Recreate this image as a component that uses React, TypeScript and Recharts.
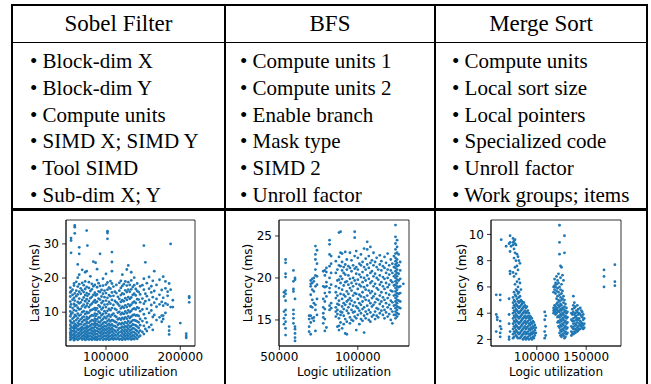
import React from 'react';
import { ScatterChart, Scatter, XAxis, YAxis, ReferenceArea } from 'recharts';

// Column headers and bullet lists
const titles = ['Sobel Filter', 'BFS', 'Merge Sort'];
const sobelParams = ['Block-dim X', 'Block-dim Y', 'Compute units', 'SIMD X; SIMD Y', 'Tool SIMD', 'Sub-dim X; Y'];
const bfsParams = ['Compute units 1', 'Compute units 2', 'Enable branch', 'Mask type', 'SIMD 2', 'Unroll factor'];
const mergeParams = ['Compute units', 'Local sort size', 'Local pointers', 'Specialized code', 'Unroll factor', 'Work groups; items'];

// Scatter data: [logic utilization (thousands), latency values (ms)]
const sobelCols: [number, number[]][] = [
  [52, [1.9, 2.6, 3.4, 4.1, 5.2, 6.3, 7.5, 8.8, 10.2, 11.6, 13.1, 14.6, 15.8, 17.2]],
  [53, [2.2, 3.0, 3.8, 4.7, 5.8, 7.0, 9.4, 12.3, 16.1, 27.4, 31.0, 31.7]],
  [55, [2.4, 3.3, 4.4, 5.5, 6.8, 8.1, 9.9, 11.2, 13.7, 15.1, 16.6]],
  [57, [1.8, 2.7, 3.6, 4.6, 5.1, 6.0, 7.3, 8.5, 10.6, 12.4, 14.2, 17.8, 18.4]],
  [58, [2.1, 3.0, 4.0, 5.6, 6.6, 9.2, 11.8, 13.4, 15.5, 33.1, 34.9, 35.4]],
  [60, [2.3, 3.2, 4.3, 5.3, 6.2, 7.7, 8.9, 10.4, 12.0, 14.7, 16.3, 18.9]],
  [62, [1.9, 2.8, 3.7, 4.8, 5.9, 6.9, 8.2, 9.6, 11.3, 13.0, 15.2, 17.5, 20.1, 24.0]],
  [64, [2.2, 3.1, 4.0, 5.0, 6.4, 7.4, 9.0, 10.8, 12.6, 14.0, 16.0, 18.2, 21.0, 27.1, 29.0]],
  [66, [2.5, 3.5, 4.5, 5.4, 6.5, 7.9, 9.3, 11.0, 12.9, 15.4, 17.0]],
  [68, [2.0, 2.9, 3.9, 4.9, 5.7, 7.1, 8.4, 10.0, 11.7, 13.6, 16.4, 18.6, 22.4]],
  [70, [2.3, 3.2, 4.2, 5.2, 6.3, 7.6, 8.7, 10.3, 12.2, 14.3, 15.9, 17.9]],
  [72, [1.9, 2.8, 3.6, 4.6, 5.5, 6.6, 7.8, 9.5, 11.4, 13.2, 15.0, 16.8, 19.0, 21.7]],
  [74, [2.1, 3.0, 4.1, 5.1, 6.0, 7.2, 8.6, 10.1, 11.9, 13.8, 15.6, 17.4, 22.0, 33.9]],
  [75, [2.6, 3.4, 4.4, 5.6, 6.8, 8.0, 9.7, 12.6, 14.8, 29.5]],
  [77, [2.0, 2.9, 3.8, 4.8, 5.8, 6.9, 8.3, 9.9, 11.5, 13.3, 15.3, 17.1, 18.8]],
  [79, [2.2, 3.1, 4.0, 5.0, 6.1, 7.3, 8.8, 10.5, 12.1, 14.1, 16.2, 20.5]],
  [81, [1.9, 2.7, 3.7, 4.6, 5.5, 6.5, 7.7, 9.1, 10.7, 12.5, 14.5, 16.7, 18.3]],
  [83, [2.3, 3.3, 4.3, 5.3, 6.4, 7.5, 9.0, 10.9, 13.0, 15.1, 17.6, 24.8]],
  [85, [2.0, 2.8, 3.8, 4.7, 5.7, 6.8, 8.1, 9.6, 11.2, 13.5, 15.7, 18.0]],
  [86, [2.4, 3.5, 4.5, 6.2, 7.4, 8.9, 10.6, 12.8, 14.9, 24.5]],
  [88, [1.9, 2.7, 3.6, 4.5, 5.4, 6.6, 7.9, 9.4, 11.1, 13.1, 15.2, 17.3, 19.4, 22.6]],
  [90, [2.2, 3.1, 4.2, 5.1, 6.1, 7.2, 8.5, 10.2, 12.0, 14.0, 16.1, 18.5]],
  [92, [2.0, 2.9, 3.9, 4.9, 5.9, 7.0, 8.4, 9.8, 11.6, 13.7, 15.9, 17.7, 27.1]],
  [94, [2.5, 3.4, 4.3, 5.3, 6.3, 7.6, 9.1, 10.8, 12.7, 14.6, 16.5]],
  [96, [1.9, 2.8, 3.7, 4.7, 5.6, 6.7, 8.0, 9.5, 11.3, 13.2, 15.4, 17.8, 19.8]],
  [98, [2.2, 3.1, 4.1, 5.0, 6.0, 7.1, 8.6, 10.3, 12.2, 14.4, 16.3]],
  [100, [2.0, 2.9, 3.8, 4.8, 5.8, 6.9, 8.2, 9.7, 11.5, 13.4, 15.6, 18.1, 21.2]],
  [102, [2.3, 3.2, 4.2, 5.2, 6.2, 7.4, 8.8, 10.4, 12.3, 14.2, 16.6, 18.7, 31.5, 33.2, 33.7]],
  [104, [1.9, 2.8, 3.7, 4.6, 5.5, 6.6, 7.8, 9.3, 11.0, 13.0, 15.0, 17.2]],
  [106, [2.1, 3.0, 4.0, 5.0, 6.1, 7.3, 8.7, 10.6, 12.5, 14.7, 16.9, 19.1]],
  [108, [2.4, 3.3, 4.4, 5.4, 6.4, 7.7, 9.2, 11.2, 13.6, 15.8, 18.4, 22.0, 24.7, 27.6]],
  [110, [2.0, 2.9, 3.9, 4.9, 6.0, 7.5, 9.6, 12.1, 14.8, 17.5]],
  [112, [2.3, 3.4, 4.6, 5.9, 7.2, 8.9, 11.0, 13.3, 16.0]],
  [114, [2.1, 3.1, 4.2, 5.6, 7.0, 8.6, 10.7, 12.9, 15.6, 18.0]],
  [116, [2.5, 3.6, 4.8, 6.3, 7.9, 9.9, 12.4, 14.5]],
  [118, [2.0, 3.0, 4.1, 5.3, 6.7, 8.2, 10.1, 11.9, 13.9, 16.3, 18.6]],
  [120, [2.2, 3.2, 4.3, 5.4, 6.5, 7.8, 9.4, 11.1, 13.0, 15.0, 17.1, 19.2]],
  [122, [1.9, 2.8, 3.8, 4.8, 5.8, 6.9, 8.3, 9.8, 11.6, 13.5, 15.5, 17.7, 21.0]],
  [124, [2.3, 3.3, 4.4, 5.5, 6.6, 8.0, 9.5, 11.3, 13.2, 15.3, 18.2]],
  [126, [2.0, 2.9, 3.9, 4.9, 5.9, 7.1, 8.5, 10.2, 12.0, 14.1, 16.4, 19.0]],
  [128, [2.4, 3.4, 4.5, 5.6, 6.8, 8.1, 9.7, 11.5, 13.6, 15.9, 17.8, 22.5]],
  [130, [2.1, 3.0, 4.0, 5.1, 6.2, 7.4, 8.8, 10.5, 12.3, 14.4, 16.6, 18.8, 23.7]],
  [132, [2.5, 3.5, 4.6, 5.7, 6.9, 8.3, 10.0, 11.8, 13.9, 16.0, 18.0]],
  [134, [2.0, 2.9, 3.9, 4.9, 6.0, 7.2, 8.7, 10.4, 12.2, 14.3, 16.7, 19.3, 21.7]],
  [136, [2.3, 3.2, 4.2, 5.3, 6.4, 7.6, 9.1, 10.9, 12.8, 15.1, 17.4]],
  [138, [2.1, 3.1, 4.1, 5.2, 6.3, 7.7, 9.3, 11.1, 13.1, 15.4, 17.9, 20.1]],
  [140, [2.6, 3.7, 4.8, 6.1, 7.5, 9.0, 10.8, 12.7, 14.9, 16.8]],
  [142, [2.2, 3.3, 4.5, 5.8, 7.3, 9.1, 11.4, 13.8, 16.2, 18.4]],
  [144, [2.8, 4.0, 5.4, 7.0, 8.9, 11.2, 13.7, 15.9]],
  [146, [3.1, 4.6, 6.2, 8.0, 10.3, 12.9, 15.2, 17.6]],
  [149, [4.2, 7.4, 10.8, 14.0, 17.9]],
  [151, [3.6, 6.0, 9.4, 12.5, 16.6, 19.8, 29.5]],
  [153, [5.1, 8.2, 13.2, 15.4, 24.6]],
  [155, [4.5, 7.0, 11.0, 14.7, 18.5]],
  [158, [5.6, 9.8, 13.6, 16.9, 20.3]],
  [161, [6.3, 10.5, 12.1, 15.8, 17.6]],
  [163, [4.8, 8.6, 14.4, 19.2]],
  [165, [9.2, 12.8, 16.2, 22.0]],
  [168, [7.7, 11.6, 13.9, 18.0]],
  [172, [8.5, 12.3, 15.1, 19.5]],
  [175, [7.2, 9.0, 13.0, 16.5]],
  [177, [8.0, 9.0, 11.9, 14.2, 20.4]],
  [180, [9.8, 12.6, 17.0, 19.0]],
  [183, [12.2, 14.8, 16.0]],
  [185, [3.5, 4.6, 5.8, 18.4]],
  [187, [11.5, 16.6, 30.0]],
  [190, [11.5, 13.5]],
  [200, [6.8]],
  [208, [2.5, 3.0, 3.7]],
  [212, [12.9, 14.2, 14.6]],
];

const bfsCols: [number, number[]][] = [
  [53, [18.3, 17.8, 16.0, 15.2, 14.5]],
  [54, [22.2, 21.8, 20.5, 20.1, 18.5, 18.1, 17.3, 16.2, 15.6, 14.8, 14.0, 13.2]],
  [59, [20.9, 19.6, 18.7, 18.4, 16.2, 15.7, 15.2, 14.6]],
  [60, [20.0, 19.8, 17.5, 14.2, 13.9, 13.4, 12.9, 12.5]],
  [69, [15.5, 15.1, 14.2, 13.6]],
  [70, [19.7, 19.3, 19.0, 18.0, 16.6, 15.5, 14.7, 13.3]],
  [71, [19.9, 19.4, 18.6, 17.4, 16.5, 15.2]],
  [72, [20.0, 19.6, 18.4, 17.0, 15.3, 14.9]],
  [73, [23.8, 22.8, 22.2, 21.0, 20.3, 19.0, 16.8, 16.2, 13.7]],
  [74, [23.3, 21.7, 20.2, 19.2, 17.5, 15.6]],
  [78, [20.8, 19.0, 17.5, 16.5, 15.8, 15.3, 14.6]],
  [79, [20.9, 20.3, 18.9, 18.2, 17.2, 16.3, 15.1, 13.7]],
  [80, [21.2, 20.7, 19.5, 19.0, 17.8, 14.1]],
  [82, [24.5, 24.0, 22.8, 21.4, 20.0, 18.8, 18.3, 16.7, 16.2]],
  [83, [22.6, 21.7, 20.6, 19.2, 17.0, 16.4]],
  [86, [22.0, 20.6, 19.0, 18.3, 17.6, 16.5, 16.0, 15.4]],
  [87, [21.0, 19.7, 17.9, 16.9, 16.2, 15.7, 14.2]],
  [88, [25.4, 22.5, 21.5, 19.8, 18.8, 17.3, 16.8, 15.2, 14.3, 13.8]],
  [89, [25.5, 23.0, 21.4, 20.2, 19.4, 18.1, 16.0, 15.6, 14.7]],
  [90, [22.9, 21.9, 20.9, 19.9, 18.6, 17.5, 16.6, 15.9, 14.0]],
  [91, [21.3, 20.6, 19.1, 18.0, 17.0, 16.3, 15.5, 14.5]],
  [92, [23.1, 21.6, 20.4, 19.5, 17.8, 16.8, 15.1, 13.4]],
  [93, [22.2, 21.0, 19.6, 18.4, 17.2, 16.1, 14.8, 13.3]],
  [94, [21.4, 20.3, 19.2, 18.1, 17.4, 16.5, 15.8]],
  [95, [23.0, 21.2, 19.9, 18.8, 17.6, 16.9, 15.3, 14.6]],
  [96, [22.1, 20.8, 19.4, 18.5, 17.3, 16.2, 15.0]],
  [97, [21.5, 20.0, 19.0, 17.9, 16.7, 15.9, 14.9]],
  [98, [25.5, 24.8, 22.6, 21.1, 19.7, 18.2, 17.1, 16.0, 15.4]],
  [99, [23.2, 21.3, 20.5, 19.3, 18.1, 16.6, 15.2, 13.8]],
  [100, [22.4, 21.0, 19.8, 18.7, 17.5, 16.4, 15.6]],
  [101, [21.7, 20.4, 19.2, 18.0, 17.0, 16.1, 14.5]],
  [102, [22.8, 21.5, 20.1, 19.0, 17.8, 16.8, 15.8, 15.1]],
  [103, [21.9, 20.7, 19.5, 18.3, 17.2, 16.3, 14.9]],
  [104, [23.5, 21.3, 20.0, 18.9, 17.7, 16.5, 15.5, 13.5]],
  [105, [22.3, 21.0, 19.7, 18.6, 17.4, 16.0, 15.2]],
  [106, [24.3, 23.4, 21.6, 20.3, 19.1, 17.9, 16.7, 15.7]],
  [107, [22.6, 21.2, 19.9, 18.5, 17.3, 16.2, 15.0]],
  [108, [23.7, 21.8, 20.6, 19.4, 18.2, 17.0, 15.9, 14.8]],
  [109, [22.1, 20.8, 19.6, 18.4, 17.6, 16.6, 15.4]],
  [110, [23.0, 21.5, 20.2, 19.0, 17.8, 16.8, 15.6]],
  [111, [21.9, 20.5, 19.3, 18.1, 17.1, 16.0, 15.1]],
  [112, [22.4, 21.3, 20.0, 18.8, 17.5, 16.4, 15.5]],
  [113, [21.0, 19.8, 18.6, 17.4, 16.3, 15.3]],
  [114, [22.7, 21.6, 20.3, 19.2, 17.9, 16.9, 15.8]],
  [115, [22.0, 20.9, 19.5, 18.3, 17.2, 16.1]],
  [116, [21.4, 20.1, 19.0, 17.7, 16.6, 15.6]],
  [117, [22.5, 21.2, 19.9, 18.7, 17.4, 16.2, 15.2]],
  [118, [21.8, 20.6, 19.4, 18.2, 17.0, 15.9]],
  [119, [22.9, 21.0, 20.0, 18.9, 17.6, 16.5, 15.4]],
  [120, [21.5, 20.4, 19.2, 18.0, 16.8, 15.7]],
  [121, [22.2, 20.9, 19.7, 18.5, 17.3, 16.3, 15.0]],
  [122, [21.7, 20.6, 19.5, 18.4, 17.1, 16.0, 14.6]],
  [123, [22.6, 21.3, 20.2, 19.1, 17.9, 16.7, 15.6]],
  [124, [26.3, 24.9, 24.1, 23.4, 22.9, 22.4, 22.0, 21.6, 21.2, 20.8, 20.4, 20.0, 19.6, 19.2, 18.8, 18.4, 18.0, 17.6, 17.2, 16.8, 16.4, 16.0, 15.6, 15.2]],
  [125, [24.5, 23.7, 23.0, 22.2, 21.8, 21.4, 21.0, 20.6, 20.2, 19.8, 19.4, 19.0, 18.6, 18.2, 17.8, 17.4, 17.0, 16.6, 16.2, 15.8, 15.4]],
  [126, [22.8, 21.5, 20.5, 19.7, 18.9, 18.1, 17.3, 16.5, 15.7]],
  [127, [21.9, 20.9, 19.9, 19.0, 18.2, 17.2, 16.4]],
  [129, [19.3]],
];

const mergeCols: [number, number[]][] = [
  [59, [5.4, 3.9, 2.6]],
  [60, [3.7, 3.5]],
  [63, [5.4, 5.0, 3.4, 3.0, 2.5, 2.2]],
  [64, [9.6, 2.8]],
  [69, [9.1]],
  [72, [9.3, 5.1, 3.9, 3.2, 2.2, 2.0]],
  [73, [9.9, 9.4, 8.7, 7.2, 7.0, 2.6]],
  [74, [9.1]],
  [76, [9.7, 9.4, 9.2, 7.1, 5.2, 4.8, 4.4, 4.0, 3.6, 3.2, 2.8, 2.4, 2.1]],
  [77, [9.5, 8.9, 8.2, 6.8, 5.6, 5.0, 4.6, 4.2, 3.8, 3.4, 3.0, 2.6, 2.2]],
  [78, [9.6, 9.3, 8.6, 7.5, 6.2, 5.4, 4.9, 4.5, 4.1, 3.7, 3.3, 2.9, 2.5]],
  [79, [9.2, 8.0, 7.0, 5.8, 5.3, 4.7, 4.3, 3.9, 3.5, 3.1, 2.7, 2.3]],
  [80, [8.5, 7.6, 6.4, 5.7, 5.1, 4.6, 4.2, 3.8, 3.4, 3.0, 2.6, 2.2]],
  [81, [8.3, 7.3, 6.0, 5.5, 4.9, 4.5, 4.1, 3.7, 3.3, 2.9, 2.5, 2.1]],
  [82, [8.0, 6.6, 5.6, 5.2, 4.8, 4.4, 4.0, 3.6, 3.2, 2.8, 2.4]],
  [83, [7.8, 6.3, 5.3, 4.9, 4.5, 4.1, 3.7, 3.3, 2.9, 2.5, 2.1]],
  [84, [5.8, 5.0, 4.6, 4.2, 3.8, 3.4, 3.0, 2.6, 2.2]],
  [85, [4.9, 4.7, 4.3, 3.9, 3.5, 3.1, 2.7, 2.3]],
  [86, [4.8, 4.4, 4.0, 3.6, 3.2, 2.8, 2.4, 2.0]],
  [87, [4.8, 4.5, 4.1, 3.7, 3.3, 2.9, 2.5, 2.1]],
  [88, [4.6, 4.2, 3.8, 3.4, 3.0, 2.6, 2.2]],
  [89, [4.4, 4.0, 3.6, 3.2, 2.8, 2.4, 2.0]],
  [90, [4.5, 4.1, 3.7, 3.3, 2.9, 2.5, 2.1]],
  [91, [4.2, 3.8, 3.4, 3.0, 2.6, 2.2]],
  [92, [4.0, 3.6, 3.2, 2.8, 2.4, 2.0]],
  [93, [3.8, 3.5, 3.1, 2.7, 2.3]],
  [94, [3.7, 3.3, 2.9, 2.5, 2.1]],
  [95, [3.6, 3.2, 2.8, 2.4, 2.0]],
  [96, [3.4, 3.0, 2.6, 2.2]],
  [97, [3.3, 2.9, 2.5, 2.1]],
  [98, [3.1, 2.7, 2.3]],
  [99, [2.9, 2.5]],
  [108, [4.1, 3.5, 2.6, 2.1]],
  [109, [3.8, 3.0, 2.3]],
  [117, [6.0, 5.6, 4.4, 4.2, 4.0]],
  [118, [6.6, 6.1, 5.8, 4.6, 4.3, 4.1]],
  [119, [6.3, 6.0, 5.5, 4.5, 4.2, 3.9]],
  [120, [6.8, 6.2, 5.7, 5.1, 4.7, 4.3, 4.0]],
  [121, [6.5, 5.9, 5.3, 4.8, 4.4, 4.1, 3.7, 3.3]],
  [122, [7.0, 6.3, 5.6, 5.0, 4.6, 4.2, 3.8, 3.4, 3.0]],
  [123, [10.7, 9.4, 8.5, 6.0, 5.4, 4.9, 4.5, 4.1, 3.7, 3.3, 2.9, 2.5]],
  [124, [7.6, 6.7, 5.8, 5.2, 4.7, 4.3, 3.9, 3.5, 3.1, 2.7, 2.3]],
  [125, [7.5, 6.2, 5.5, 5.0, 4.6, 4.2, 3.8, 3.4, 3.0, 2.6, 2.2]],
  [126, [6.9, 5.7, 5.1, 4.4, 4.0, 3.6, 3.2, 2.8, 2.4]],
  [127, [6.5, 5.3, 4.8, 4.3, 3.9, 3.5, 3.1, 2.7, 2.3]],
  [128, [9.9, 8.6, 5.0, 4.5, 4.1, 3.7, 3.3, 2.9, 2.5, 2.1]],
  [129, [4.7, 4.2, 3.8, 3.4, 3.0, 2.6, 2.2]],
  [130, [4.4, 4.0, 3.6, 3.2, 2.8, 2.4]],
  [131, [4.1, 3.7, 3.3, 2.9, 2.5]],
  [135, [4.0, 3.5, 3.0, 2.6, 2.3]],
  [136, [4.3, 3.9, 3.4, 2.9, 2.5]],
  [137, [5.3, 4.6, 4.1, 3.6, 3.2, 2.8, 2.4]],
  [138, [4.8, 4.4, 3.9, 3.4, 3.0, 2.6]],
  [139, [4.5, 4.0, 3.7, 3.2, 2.8, 2.5]],
  [140, [4.2, 3.8, 3.5, 3.1, 2.7]],
  [141, [4.6, 4.1, 3.6, 3.3, 2.9, 2.6]],
  [142, [4.3, 3.9, 3.5, 3.0, 2.7]],
  [143, [4.0, 3.6, 3.2, 2.8]],
  [144, [4.4, 3.9, 3.4, 3.1, 2.8]],
  [145, [4.2, 3.8, 3.3, 3.0]],
  [146, [4.1, 3.7, 3.2, 2.9]],
  [147, [3.9, 3.5, 3.1, 2.8]],
  [148, [3.6, 3.2, 2.9]],
  [168, [7.3, 6.8, 6.0]],
  [179, [7.7, 6.4, 6.1]],
];

const sobelXTicks = [100000, 200000];
const sobelYTicks = [10, 20, 30];
const bfsXTicks = [50000, 100000];
const bfsYTicks = [15, 20, 25];
const mergeXTicks = [100000, 150000];
const mergeYTicks = [2, 4, 6, 8, 10];

const toPoints = (cols: [number, number[]][]) =>
  cols.flatMap(([xk, ys]) => ys.map((y) => ({ x: xk * 1000, y })));

const BLUE = '#1f77b4';
const SERIF = '"Liberation Serif", "Times New Roman", serif';
const SANS = '"DejaVu Sans", sans-serif';

const Dot = (p: any) => <circle cx={p.cx} cy={p.cy} r={1.4} fill={BLUE} />;

type PanelProps = {
  left: number;
  cols: [number, number[]][];
  xDomain: [number, number];
  yDomain: [number, number];
  xTicks: number[];
  yTicks: number[];
  marginLeft: number;
  yWidth: number;
  marginRight: number;
};

const tickStyle = { fill: '#000', fontSize: 12, fontFamily: SANS };

function Panel({ left, cols, xDomain, yDomain, xTicks, yTicks, marginLeft, yWidth, marginRight }: PanelProps) {
  const data = toPoints(cols);
  return (
    <div style={{ position: 'absolute', left, top: 200, width: 215, height: 184 }}>
      <ScatterChart width={215} height={184} margin={{ top: 20, right: marginRight, bottom: 0, left: marginLeft }}>
        <XAxis
          type="number"
          dataKey="x"
          domain={xDomain}
          ticks={xTicks}
          allowDataOverflow
          height={38}
          tickSize={4}
          tickMargin={2}
          stroke="#000"
          strokeWidth={0.8}
          tick={tickStyle}
          interval={0}
          label={{ value: 'Logic utilization', position: 'insideBottom', offset: 8, fill: '#000', fontSize: 12, fontFamily: SANS }}
        />
        <YAxis
          type="number"
          dataKey="y"
          domain={yDomain}
          ticks={yTicks}
          allowDataOverflow
          width={yWidth}
          tickSize={4}
          tickMargin={3}
          stroke="#000"
          strokeWidth={0.8}
          tick={tickStyle}
          interval={0}
          label={{ value: 'Latency (ms)', angle: -90, position: 'center', fill: '#000', fontSize: 12, fontFamily: SANS }}
        />
        <ReferenceArea
          x1={xDomain[0]}
          x2={xDomain[1]}
          y1={yDomain[0]}
          y2={yDomain[1]}
          fill="none"
          fillOpacity={0}
          stroke="#000"
          strokeWidth={0.8}
          ifOverflow="visible"
        />
        <Scatter data={data} isAnimationActive={false} shape={Dot} fill={BLUE} />
      </ScatterChart>
    </div>
  );
}

const line = (l: number, t: number, w: number, h: number) => (
  <div style={{ position: 'absolute', left: l, top: t, width: w, height: h, background: '#000' }} />
);

function BulletList({ left, items }: { left: number; items: string[] }) {
  return (
    <div style={{ position: 'absolute', left, top: 48, fontFamily: SERIF, fontSize: 21, lineHeight: '26.8px', color: '#000', whiteSpace: 'nowrap' }}>
      {items.map((s) => (
        <div key={s}>{'\u2022 ' + s}</div>
      ))}
    </div>
  );
}

export default function App() {
  const colCenters = [118.5, 330, 541];
  return (
    <div style={{ position: 'absolute', left: 0, top: 0, width: 651, height: 384, background: '#fff', overflow: 'hidden' }}>
      {titles.map((t, i) => (
        <div
          key={t}
          style={{
            position: 'absolute',
            left: colCenters[i] - 100,
            width: 200,
            top: 6,
            height: 36,
            lineHeight: '36px',
            textAlign: 'center',
            fontFamily: SERIF,
            fontSize: 23,
            color: '#000',
          }}
        >
          {t}
        </div>
      ))}
      <BulletList left={30} items={sobelParams} />
      <BulletList left={240} items={bfsParams} />
      <BulletList left={452} items={mergeParams} />

      <Panel left={0} cols={sobelCols} xDomain={[46200, 219800]} yDomain={[0.1, 37]} xTicks={sobelXTicks} yTicks={sobelYTicks} marginLeft={4} yWidth={62} marginRight={20} />
      <Panel left={215} cols={bfsCols} xDomain={[49800, 132600]} yDomain={[11.9, 26.9]} xTicks={bfsXTicks} yTicks={bfsYTicks} marginLeft={2} yWidth={62} marginRight={21} />
      <Panel left={430} cols={mergeCols} xDomain={[53700, 185200]} yDomain={[1.5, 11.1]} xTicks={mergeXTicks} yTicks={mergeYTicks} marginLeft={3} yWidth={58} marginRight={24} />

      {line(11, 4, 637, 2)}
      {line(11, 4, 2, 380)}
      {line(646, 4, 2, 380)}
      {line(224, 4, 2, 380)}
      {line(434, 4, 2, 380)}
      {line(11, 41.5, 637, 1.3)}
      {line(11, 208, 637, 3)}
    </div>
  );
}
